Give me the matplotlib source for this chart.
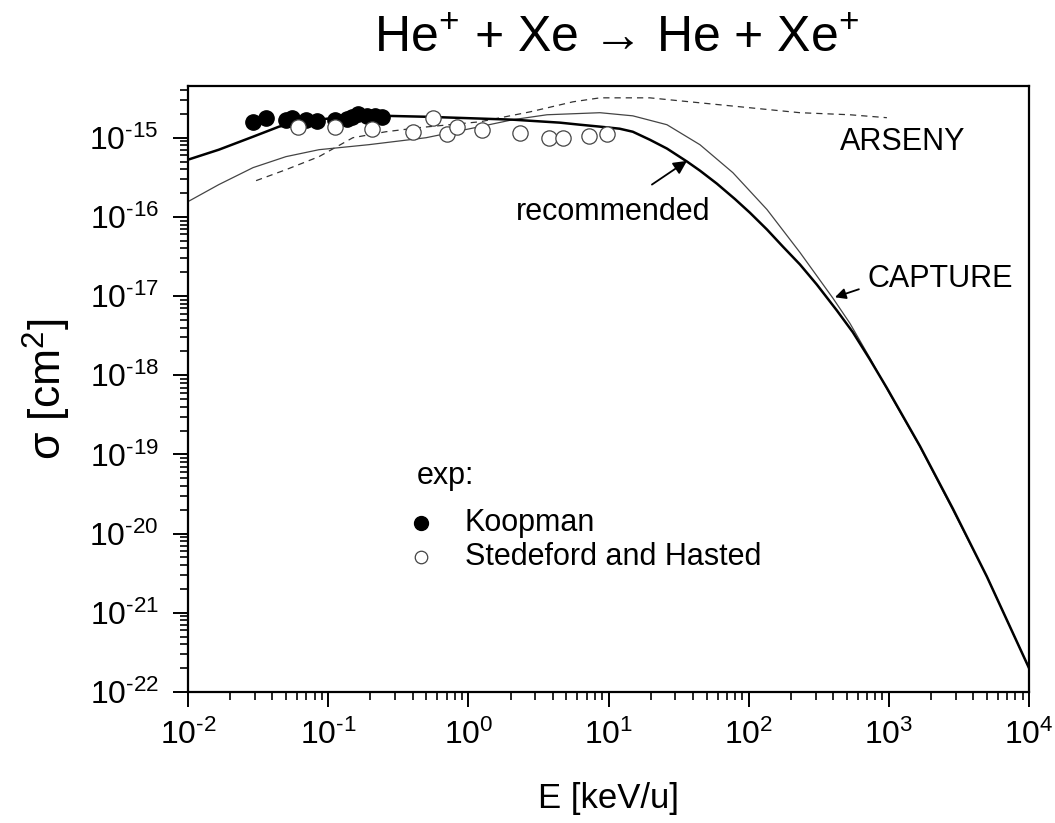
import numpy as np
import matplotlib
matplotlib.use('Agg')
import matplotlib.pyplot as plt
from matplotlib.patches import FancyArrowPatch
from matplotlib.ticker import LogLocator, NullFormatter, FuncFormatter

plt.rcParams['font.family'] = ['Liberation Sans', 'DejaVu Sans']
plt.rcParams['mathtext.fontset'] = 'custom'
plt.rcParams['mathtext.rm'] = 'Liberation Sans'
plt.rcParams['mathtext.it'] = 'Liberation Sans:italic'
plt.rcParams['mathtext.default'] = 'regular'
plt.rcParams['axes.unicode_minus'] = False

# recommended cross section (keV/u, cm^2)
rec_E = [0.01, 0.0166, 0.0291, 0.0446, 0.0619, 0.114, 0.258, 0.499, 2.08, 4.50,
         6.25, 8.69, 12.0, 14.9, 19.7, 26.1, 36.3, 44.9, 59.3, 79.8, 102, 135,
         175, 232, 306, 425, 553, 731, 968, 1664, 2860, 5000, 10000]
rec_sig = [5.28e-16, 7.06e-16, 1.03e-15, 1.38e-15, 1.59e-15, 1.79e-15, 1.89e-15,
           1.84e-15, 1.69e-15, 1.55e-15, 1.46e-15, 1.38e-15, 1.30e-15, 1.19e-15,
           9.44e-16, 7.3e-16, 5.0e-16, 3.84e-16, 2.63e-16, 1.68e-16, 1.13e-16,
           6.93e-17, 4.23e-17, 2.51e-17, 1.40e-17, 6.6e-18, 3.5e-18, 1.59e-18,
           6.9e-19, 1.28e-19, 2.07e-20, 2.87e-21, 2.0e-22]

# CAPTURE calculation
cap_E = [0.01, 0.0166, 0.0291, 0.050, 0.086, 0.195, 0.499, 1.21, 2.08, 3.64,
         8.69, 14.9, 26.1, 44.9, 77.1, 135, 232, 399, 527, 731, 968, 1664,
         2860, 5000, 10000]
cap_sig = [1.56e-16, 2.56e-16, 4.19e-16, 5.77e-16, 7.06e-16, 8.17e-16, 1.0e-15,
           1.38e-15, 1.69e-15, 1.95e-15, 2.07e-15, 1.89e-15, 1.46e-15, 8.16e-16,
           3.62e-16, 1.24e-16, 3.56e-17, 9.4e-18, 4.54e-18, 1.66e-18, 6.7e-19,
           1.25e-19, 1.98e-20, 2.87e-21, 2.0e-22]

# ARSENY calculation
ars_E = [0.0306, 0.050, 0.086, 0.150, 0.258, 0.445, 1.21, 2.75, 5.57, 8.69,
         19.7, 44.9, 102, 232, 527, 968]
ars_sig = [2.87e-16, 3.95e-16, 5.77e-16, 1.0e-15, 1.19e-15, 1.34e-15, 1.59e-15,
           2.12e-15, 2.84e-15, 3.19e-15, 3.19e-15, 2.76e-15, 2.39e-15, 2.07e-15,
           1.95e-15, 1.79e-15]

# experiment: Koopman
koop_E = [0.0292, 0.036, 0.050, 0.055, 0.0695, 0.083, 0.112, 0.136, 0.147,
          0.164, 0.188, 0.216, 0.241]
koop_sig = [1.56e-15, 1.77e-15, 1.69e-15, 1.77e-15, 1.69e-15, 1.65e-15, 1.69e-15,
            1.72e-15, 1.85e-15, 2.0e-15, 1.89e-15, 1.89e-15, 1.82e-15]

# experiment: Stedeford and Hasted
sh_E = [0.061, 0.112, 0.205, 0.403, 0.559, 0.703, 0.83, 1.25, 2.33, 3.76,
        4.73, 7.25, 9.74]
sh_sig = [1.38e-15, 1.38e-15, 1.30e-15, 1.19e-15, 1.79e-15, 1.12e-15, 1.38e-15,
          1.26e-15, 1.16e-15, 1.0e-15, 1.0e-15, 1.06e-15, 1.12e-15]

x_decades = [1e-2, 1e-1, 1e0, 1e1, 1e2, 1e3, 1e4]
y_decades = [1e-22, 1e-21, 1e-20, 1e-19, 1e-18, 1e-17, 1e-16, 1e-15]


def pow10(v, pos):
    e = int(round(np.log10(v)))
    if e < 0:
        return r'$10^{\text{-%d}}$' % (-e)
    return r'$10^{%d}$' % e


fig = plt.figure(figsize=(10.55, 8.23), dpi=100)
ax = fig.add_axes([0.1782, 0.1592, 0.7972, 0.7363])

ax.plot(ars_E, ars_sig, color='#333333', lw=0.9, ls=(0, (5, 4)))
ax.plot(cap_E, cap_sig, color='#444444', lw=0.9)
ax.plot(rec_E, rec_sig, color='black', lw=1.8)
ax.plot(koop_E, koop_sig, 'o', ms=11, mfc='black', mec='black', ls='none')
ax.plot(sh_E, sh_sig, 'o', ms=11, mfc='white', mec='#444444', mew=0.9, ls='none')

ax.set_xscale('log')
ax.set_yscale('log')
ax.set_xticks(x_decades)
ax.set_yticks(y_decades)
ax.set_xlim(1e-2, 1e4)
ax.set_ylim(1e-22, 4.5e-15)

ax.xaxis.set_minor_locator(LogLocator(base=10, subs=np.arange(2, 10), numticks=20))
ax.yaxis.set_minor_locator(LogLocator(base=10, subs=np.arange(2, 10), numticks=20))
ax.xaxis.set_major_formatter(FuncFormatter(pow10))
ax.yaxis.set_major_formatter(FuncFormatter(pow10))
ax.xaxis.set_minor_formatter(NullFormatter())
ax.yaxis.set_minor_formatter(NullFormatter())

ax.tick_params(which='major', direction='out', length=11, width=1.4,
               labelsize=23)
ax.tick_params(axis='y', which='major', pad=10)
ax.tick_params(axis='x', which='major', pad=9)
ax.tick_params(which='minor', direction='out', length=6, width=1.2)
for s in ax.spines.values():
    s.set_linewidth(1.6)

ax.set_xlabel('E [keV/u]', fontsize=25, labelpad=22)
ax.set_ylabel('σ [cm$^2$]', fontsize=32, labelpad=12)

fig.text(0.585, 0.953, 'He$^{+}$ + Xe → He + Xe$^{+}$', ha='center', va='center',
         fontsize=36)

# curve labels with arrows
ax.text(447, 8.9e-16, 'ARSENY', fontsize=22, va='center', ha='left')
ax.text(10.7, 1.17e-16, 'recommended', fontsize=22, va='center', ha='center')
ax.add_patch(FancyArrowPatch((20.4, 2.56e-16), (36.3, 5.1e-16), arrowstyle='-|>',
                             mutation_scale=20, lw=1.3, color='black',
                             shrinkA=0, shrinkB=0))
ax.text(708, 1.63e-17, 'CAPTURE', fontsize=22, va='center', ha='left')
ax.add_patch(FancyArrowPatch((611, 1.22e-17), (412, 9.66e-18), arrowstyle='-|>',
                             mutation_scale=16, lw=1.3, color='black',
                             shrinkA=0, shrinkB=0))

# legend for the experiments
ax.text(0.272, 0.356, 'exp:', transform=ax.transAxes, fontsize=22, va='center')
ax.plot([0.277], [0.279], 'o', ms=10, mfc='black', mec='black',
        transform=ax.transAxes, clip_on=False)
ax.text(0.329, 0.279, 'Koopman', transform=ax.transAxes, fontsize=22, va='center')
ax.plot([0.277], [0.223], 'o', ms=9, mfc='white', mec='#444444', mew=0.9,
        transform=ax.transAxes, clip_on=False)
ax.text(0.329, 0.223, 'Stedeford and Hasted', transform=ax.transAxes,
        fontsize=22, va='center')

fig.savefig('out.png', dpi=100)
